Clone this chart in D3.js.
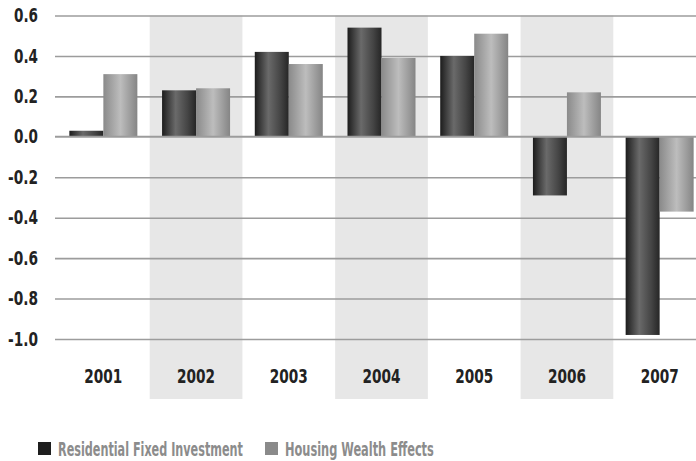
<!DOCTYPE html>
<html>
<head>
<meta charset="utf-8">
<script src="https://cdn.jsdelivr.net/npm/d3@7"></script>
<style>
  html, body { margin: 0; padding: 0; background: #fff; }
  svg { display: block; }
  text { font-family: "DejaVu Sans", sans-serif; font-stretch: condensed; font-weight: bold; }
</style>
</head>
<body>
<svg id="chart" width="696" height="461"></svg>
<script>
// Contributions to GDP growth (percentage points)
const years = ["2001", "2002", "2003", "2004", "2005", "2006", "2007"];
const residentialInvestment = [0.03, 0.23, 0.42, 0.54, 0.40, -0.29, -0.98];
const housingWealth = [0.31, 0.24, 0.36, 0.39, 0.51, 0.22, -0.37];
const yTicks = [0.6, 0.4, 0.2, 0.0, -0.2, -0.4, -0.6, -0.8, -1.0];
const seriesNames = ["Residential Fixed Investment", "Housing Wealth Effects"];

const svg = d3.select("#chart");
const W = 696;

const x = d3.scaleBand().domain(years).range([57, 706]).padding(0);
const y = d3.scaleLinear().domain([-1.0, 0.6]).range([339, 15.5]);
const barW = 34;

// narrow bold lettering: scale each string horizontally to a target width
function squeeze(sel, widthFn) {
  sel.each(function (d, i) {
    const t = d3.select(this);
    const natural = this.getComputedTextLength();
    const target = typeof widthFn === "function" ? widthFn(d, i) : widthFn;
    const x0 = +(t.attr("x") || 0);
    t.attr("x", 0).attr("transform", `translate(${x0},0) scale(${target / natural},1)`);
  });
}

// gradients for the cylinder-like bars
const defs = svg.append("defs");
function hGrad(id, stops) {
  const g = defs.append("linearGradient").attr("id", id)
    .attr("x1", "0%").attr("x2", "100%").attr("y1", "0%").attr("y2", "0%");
  stops.forEach(([o, c]) => g.append("stop").attr("offset", o).attr("stop-color", c));
}
hGrad("gDark", [["0%", "#1c1c1c"], ["40%", "#6a6a6a"], ["75%", "#454545"], ["100%", "#262626"]]);
hGrad("gLight", [["0%", "#8a8a8a"], ["50%", "#bdbdbd"], ["100%", "#858585"]]);

// alternating shaded columns
svg.append("g").selectAll("rect")
  .data(years.filter((d, i) => i % 2 === 1))
  .join("rect")
  .attr("x", d => x(d))
  .attr("width", x.bandwidth())
  .attr("y", y(0.6))
  .attr("height", 399 - y(0.6))
  .attr("fill", "#e7e7e7");

// gridlines and value labels
const fmt = d => d3.format(".1f")(d).replace("−", "-");
const yAxis = d3.axisLeft(y).tickValues(yTicks).tickFormat(fmt)
  .tickSize(-(W - 55)).tickPadding(17);
const yg = svg.append("g").attr("transform", "translate(55,0)").call(yAxis);
yg.select(".domain").remove();
yg.selectAll(".tick line").attr("stroke", "#9c9c9c").attr("stroke-width", 1.6)
  .attr("display", d => d === 0 ? "none" : null);
yg.attr("font-family", null).attr("font-size", null);
yg.selectAll(".tick text")
  .attr("fill", "#222").attr("font-size", 19)
  .call(squeeze, d => fmt(d).length === 3 ? 24 : 30);

// bars
const rows = years.map((yr, i) => ({ yr, a: residentialInvestment[i], b: housingWealth[i] }));
const bars = svg.append("g");
bars.selectAll("rect.dark").data(rows).join("rect")
  .attr("class", "dark")
  .attr("x", d => x(d.yr) + x.bandwidth() / 2 - barW)
  .attr("width", barW)
  .attr("y", d => y(Math.max(0, d.a)))
  .attr("height", d => Math.abs(y(d.a) - y(0)))
  .attr("fill", "url(#gDark)");
bars.selectAll("rect.light").data(rows).join("rect")
  .attr("class", "light")
  .attr("x", d => x(d.yr) + x.bandwidth() / 2)
  .attr("width", barW)
  .attr("y", d => y(Math.max(0, d.b)))
  .attr("height", d => Math.abs(y(d.b) - y(0)))
  .attr("fill", "url(#gLight)");

// zero line on top of bars
svg.append("line")
  .attr("x1", 55).attr("x2", W)
  .attr("y1", y(0)).attr("y2", y(0))
  .attr("stroke", "#9c9c9c").attr("stroke-width", 2);

// category labels
const xAxis = d3.axisBottom(x).tickSize(0).tickPadding(0);
const xg = svg.append("g").attr("transform", "translate(0,369)").call(xAxis);
xg.select(".domain").remove();
xg.attr("font-family", null).attr("font-size", null);
xg.selectAll(".tick text")
  .attr("fill", "#222").attr("font-size", 19)
  .attr("dy", "0.73em")
  .call(squeeze, 38);

// legend
const legend = svg.append("g");
const legendItems = [
  { name: seriesNames[0], color: "#1e1e1e", x: 38, w: 185 },
  { name: seriesNames[1], color: "#8a8a8a", x: 265, w: 149 }
];
const li = legend.selectAll("g").data(legendItems).join("g")
  .attr("transform", d => `translate(${d.x},442)`);
li.append("rect").attr("width", 13).attr("height", 13).attr("fill", d => d.color);
li.append("text")
  .attr("x", 20).attr("y", 13.5)
  .attr("fill", "#8c8c8c").attr("font-size", 19)
  .text(d => d.name)
  .call(squeeze, d => d.w);
</script>
</body>
</html>
